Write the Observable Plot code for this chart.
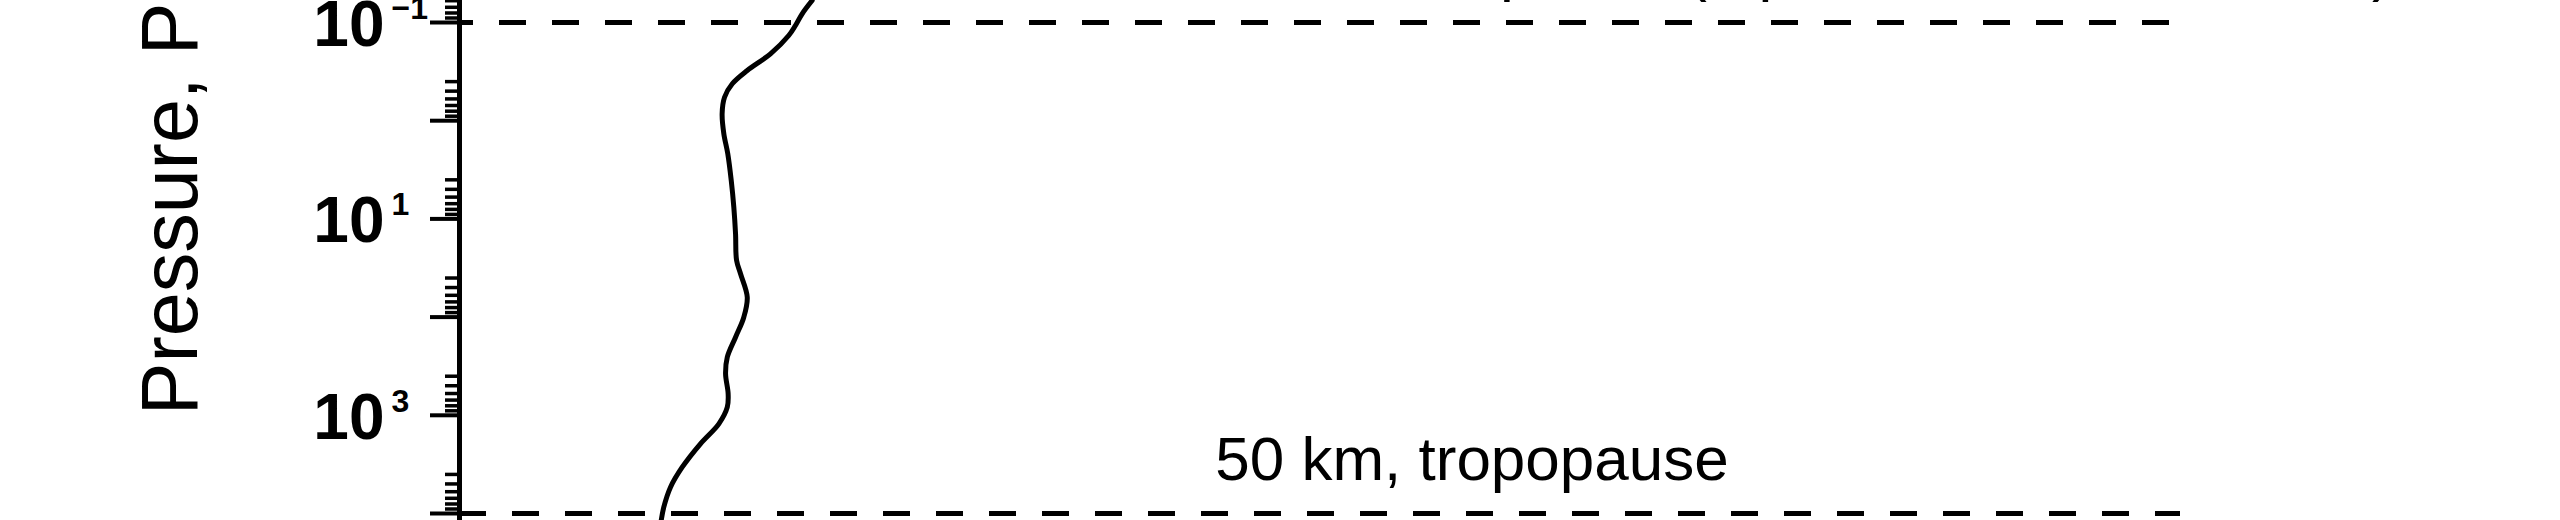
<!DOCTYPE html>
<html>
<head>
<meta charset="utf-8">
<script src="https://cdn.jsdelivr.net/npm/d3@7"></script>
<script src="https://cdn.jsdelivr.net/npm/@observablehq/plot@0.6"></script>
<style>
  html, body { margin: 0; padding: 0; background: #fff; }
  svg { display: block; }
</style>
</head>
<body>
<div id="chart"></div>
<script>
// Profile (pressure in Pa, horizontal quantity in arbitrary units)
const pressure = [0.0597, 0.0815, 0.1073, 0.1356, 0.2084, 0.3082, 0.4209, 0.5763, 0.8505, 1.36, 2.174, 4.064, 7.60, 14.18, 26.5, 36.2, 62.7, 100.2, 160.2, 256.1, 377.9, 604, 827, 1221, 1951, 3377, 5398, 8626, 11780];
const value = [20.49, 19.91, 19.52, 19.13, 18.07, 16.72, 15.85, 15.40, 15.26, 15.36, 15.59, 15.79, 15.94, 16.04, 16.10, 16.33, 16.72, 16.52, 16.04, 15.56, 15.46, 15.61, 15.56, 15.07, 14.00, 12.94, 12.26, 11.87, 11.72];

// Y axis ticks
const majorTicks = [0.1, 1, 10, 100, 1000, 10000];
const minorTicks = [0.06, 0.07, 0.08, 0.09,
  0.4, 0.5, 0.6, 0.7, 0.8, 0.9,
  4, 5, 6, 7, 8, 9,
  40, 50, 60, 70, 80, 90,
  400, 500, 600, 700, 800, 900,
  4000, 5000, 6000, 7000, 8000, 9000];
const labelTicks = [0.1, 10, 1000];
const labelBase = ["10", "10", "10"];
const labelExponent = ["\u22121", "1", "3"];
const axisExtent = [0.05, 12000];
const axisTitle = "Pressure, Pa";

// Reference levels
const topLevel = [0.1];
const topLabel = ["110 km, mesopause (top of the model domain)"];
const bottomLevel = [10000];
const bottomLabel = ["50 km, tropopause"];

const profile = pressure.map((p, i) => ({p, v: value[i]}));
const ticksLab = labelTicks.map((p, i) => ({p, base: labelBase[i], exp: labelExponent[i]}));

const font = "'Liberation Sans', Arial, Helvetica, sans-serif";

const chart = Plot.plot({
  width: 2560,
  height: 520,
  marginLeft: 459,
  marginRight: 380,
  marginTop: 22,
  marginBottom: 7,
  style: {fontFamily: font, color: "#000", background: "#fff"},
  x: {domain: [0, 100], axis: null, label: null},
  y: {type: "log", domain: [0.1, 10000], reverse: true, axis: null, label: null},
  marks: [
    // dashed reference levels
    Plot.ruleY(topLevel, {y: d => d, x1: 0, x2: 99.4, stroke: "#000", strokeWidth: 5, strokeDasharray: "27,26", strokeDashoffset: 13}),
    Plot.ruleY(bottomLevel, {y: d => d, x1: 0, x2: 100, stroke: "#000", strokeWidth: 5, strokeDasharray: "27,26", strokeDashoffset: 0}),
    // level labels
    Plot.text(topLabel, {y: () => topLevel[0], text: d => d, frameAnchor: "middle", dx: 434, dy: -53, fontSize: 62, fill: "#000"}),
    Plot.text(bottomLabel, {y: () => bottomLevel[0], text: d => d, frameAnchor: "middle", dx: 152, dy: -53, fontSize: 62, fill: "#000"}),
    // axis line
    Plot.ruleX([0], {y1: axisExtent[0], y2: axisExtent[1], stroke: "#000", strokeWidth: 5}),
    // ticks
    Plot.axisY(minorTicks, {anchor: "left", label: null, tickSize: 14, tickFormat: () => "", strokeWidth: 3.5, stroke: "#000"}),
    Plot.axisY(majorTicks, {anchor: "left", label: null, tickSize: 29, tickFormat: () => "", strokeWidth: 4, stroke: "#000"}),
    // tick labels: base and exponent
    Plot.text(ticksLab, {y: "p", text: "base", frameAnchor: "left", textAnchor: "end", dx: -75, dy: 3, fontSize: 64, fontWeight: "bold", fill: "#000"}),
    Plot.text(ticksLab, {y: "p", text: "exp", frameAnchor: "left", textAnchor: "start", dx: -68, dy: -14, fontSize: 32, fontWeight: "bold", fill: "#000"}),
    // axis title
    Plot.text([axisTitle], {y: () => 1000, text: d => d, frameAnchor: "left", rotate: -90, textAnchor: "start", dx: -288, fontSize: 79, fill: "#000"}),
    // profile
    Plot.line(profile, {x: "v", y: "p", stroke: "#000", strokeWidth: 5, curve: "catmull-rom"})
  ]
});
document.getElementById("chart").appendChild(chart);
</script>
</body>
</html>
